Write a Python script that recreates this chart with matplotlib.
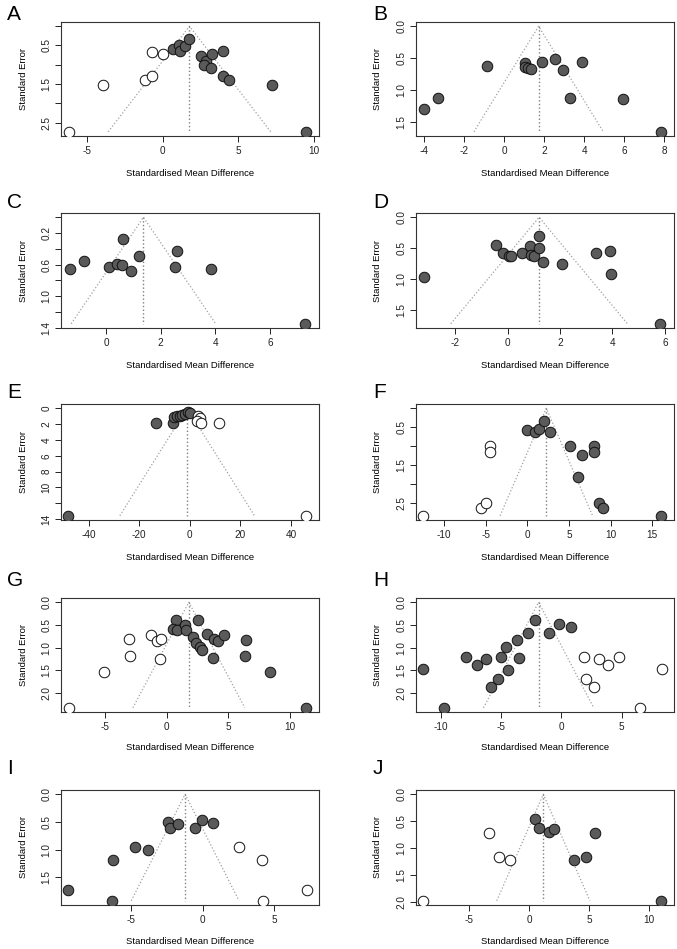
import matplotlib
matplotlib.use("Agg")
import matplotlib.pyplot as plt

plt.rcParams['font.family'] = ['Liberation Sans', 'DejaVu Sans']

# 各面板数据: obs = 实际研究(实心), fill = trim-and-fill 补充(空心)
a_obs_smd = [0.70, 1.10, 1.15, 1.50, 1.76, 2.53, 2.84, 2.73, 3.17, 3.26, 4.00, 3.99, 4.41, 7.22, 9.47]
a_obs_se = [0.60, 0.48, 0.64, 0.52, 0.34, 0.77, 0.89, 1.00, 1.08, 0.72, 0.65, 1.29, 1.39, 1.53, 2.74]
a_fill_smd = [-6.19, -3.94, -1.17, -0.73, -0.73, 0.00]
a_fill_se = [2.74, 1.53, 1.39, 1.29, 0.66, 0.72]

b_obs_smd = [-4.01, -3.29, -0.84, 1.05, 1.05, 1.19, 1.35, 1.91, 2.56, 2.93, 3.88, 3.29, 5.95, 7.84]
b_obs_se = [1.29, 1.12, 0.62, 0.58, 0.63, 0.66, 0.675, 0.56, 0.51, 0.69, 0.56, 1.12, 1.13, 1.65]
b_fill_smd = []
b_fill_se = []

c_obs_smd = [-1.32, -0.82, 0.11, 0.41, 0.60, 0.61, 0.90, 1.20, 2.59, 2.52, 3.85, 7.27]
c_obs_se = [0.66, 0.56, 0.63, 0.59, 0.60, 0.28, 0.68, 0.49, 0.43, 0.63, 0.65, 1.35]
c_fill_smd = []
c_fill_se = []

d_obs_smd = [-3.21, -0.45, -0.17, 0.06, 0.13, 0.55, 0.85, 0.90, 0.99, 1.20, 1.21, 1.35, 2.06, 3.37, 3.91, 3.94, 5.81]
d_obs_se = [0.96, 0.45, 0.57, 0.62, 0.63, 0.585, 0.47, 0.61, 0.62, 0.30, 0.49, 0.73, 0.76, 0.58, 0.54, 0.92, 1.72]
d_fill_smd = []
d_fill_se = []

e_obs_smd = [-48.0, -13.55, -6.58, -6.18, -5.0, -3.95, -2.89, -1.71, -0.66, 0.0]
e_obs_se = [13.57, 1.87, 1.91, 1.15, 0.94, 1.02, 0.85, 0.72, 0.51, 0.64]
e_fill_smd = [3.29, 3.95, 2.89, 4.6, 11.4, 46.05]
e_fill_se = [0.94, 1.28, 1.62, 1.87, 1.87, 13.57]

f_obs_smd = [0.0, 0.88, 1.40, 1.96, 2.68, 5.08, 6.60, 6.08, 7.96, 8.00, 8.60, 9.12, 16.0]
f_obs_se = [0.57, 0.62, 0.55, 0.34, 0.63, 1.00, 1.23, 1.81, 0.99, 1.16, 2.50, 2.64, 2.83]
f_fill_smd = [-12.48, -5.60, -5.00, -4.44, -4.48]
f_fill_se = [2.83, 2.64, 2.50, 1.00, 1.16]

g_obs_smd = [0.73, 2.54, 0.51, 0.84, 1.46, 1.54, 2.14, 2.35, 2.68, 2.89, 3.22, 3.81, 4.16, 4.62,
             6.41, 3.76, 6.32, 8.41, 11.3]
g_obs_se = [0.38, 0.38, 0.58, 0.60, 0.50, 0.60, 0.76, 0.89, 0.98, 1.05, 0.69, 0.80, 0.85, 0.71,
            0.82, 1.23, 1.18, 1.53, 2.32]
g_fill_smd = [-7.95, -5.08, -3.00, -3.05, -1.32, -0.84, -0.51, -0.57]
g_fill_se = [2.32, 1.53, 1.19, 0.81, 0.73, 0.85, 0.80, 1.25]

h_obs_smd = [-11.49, -9.72, -7.87, -7.02, -6.24, -5.86, -5.22, -5.03, -4.59, -4.42, -3.65, -3.48,
             -2.73, -2.15, -1.02, -0.19, 0.77]
h_obs_se = [1.47, 2.33, 1.22, 1.39, 1.26, 1.88, 1.69, 1.20, 0.98, 1.49, 0.83, 1.24,
            0.69, 0.39, 0.67, 0.47, 0.55]
h_fill_smd = [1.85, 2.04, 2.68, 3.12, 3.90, 4.78, 6.52, 8.34]
h_fill_se = [1.20, 1.69, 1.88, 1.26, 1.39, 1.22, 2.33, 1.47]

i_obs_smd = [-9.44, -6.35, -6.26, -4.72, -3.84, -2.42, -2.26, -1.70, -0.56, -0.02, 0.72]
i_obs_se = [1.72, 1.92, 1.19, 0.95, 1.01, 0.50, 0.61, 0.54, 0.60, 0.46, 0.52]
i_fill_smd = [2.51, 4.12, 4.21, 7.28]
i_fill_se = [0.95, 1.19, 1.92, 1.72]

j_obs_smd = [0.50, 0.83, 1.67, 2.03, 3.75, 4.69, 5.50, 10.94]
j_obs_se = [0.46, 0.62, 0.70, 0.65, 1.23, 1.16, 0.72, 1.98]
j_fill_smd = [-8.83, -3.36, -2.53, -1.61]
j_fill_se = [1.98, 0.72, 1.16, 1.23]

# 合并效应量(漏斗中心)
centers = [1.77, 1.72, 1.37, 1.20, -1.05, 2.28, 1.78, -1.88, -1.23, 1.17]
letters = ['A', 'B', 'C', 'D', 'E', 'F', 'G', 'H', 'I', 'J']
x_limits = [(-6.72, 10.33), (-4.41, 8.49), (-1.65, 7.8), (-3.5, 6.35), (-50.9, 51.05),
            (-13.36, 17.6), (-8.6, 12.35), (-12.04, 9.34), (-9.9, 8.12), (-9.44, 12.06)]
x_ticks = [[-5, 0, 5, 10], [-4, -2, 0, 2, 4, 6, 8], [0, 2, 4, 6], [-2, 0, 2, 4, 6],
           [-40, -20, 0, 20, 40], [-10, -5, 0, 5, 10, 15], [-5, 0, 5, 10], [-10, -5, 0, 5],
           [-5, 0, 5], [-5, 0, 5, 10]]
y_ticks = [[0, 0.5, 1, 1.5, 2, 2.5], [0, 0.5, 1, 1.5], [0, 0.2, 0.4, 0.6, 0.8, 1.0, 1.2, 1.4],
           [0, 0.5, 1, 1.5], [0, 2, 4, 6, 8, 10, 12, 14], [0, 0.5, 1, 1.5, 2, 2.5],
           [0, 0.5, 1, 1.5, 2], [0, 0.5, 1, 1.5, 2], [0, 0.5, 1, 1.5], [0, 0.5, 1, 1.5, 2]]
y_labels = [['', '0.5', '', '1.5', '', '2.5'], ['0.0', '0.5', '1.0', '1.5'],
            ['', '0.2', '', '0.6', '', '1.0', '', '1.4'], ['0.0', '0.5', '1.0', '1.5'],
            ['0', '2', '4', '6', '8', '10', '', '14'], ['', '0.5', '', '1.5', '', '2.5'],
            ['0.0', '0.5', '1.0', '1.5', '2.0'], ['0.0', '0.5', '1.0', '1.5', '2.0'],
            ['0.0', '0.5', '1.0', '1.5'], ['0.0', '0.5', '1.0', '1.5', '2.0']]

obs_smd = [a_obs_smd, b_obs_smd, c_obs_smd, d_obs_smd, e_obs_smd, f_obs_smd, g_obs_smd, h_obs_smd, i_obs_smd, j_obs_smd]
obs_se = [a_obs_se, b_obs_se, c_obs_se, d_obs_se, e_obs_se, f_obs_se, g_obs_se, h_obs_se, i_obs_se, j_obs_se]
fill_smd = [a_fill_smd, b_fill_smd, c_fill_smd, d_fill_smd, e_fill_smd, f_fill_smd, g_fill_smd, h_fill_smd, i_fill_smd, j_fill_smd]
fill_se = [a_fill_se, b_fill_se, c_fill_se, d_fill_se, e_fill_se, f_fill_se, g_fill_se, h_fill_se, i_fill_se, j_fill_se]

W, H = 677, 949
fig = plt.figure(figsize=(W / 100, H / 100), dpi=100)

# 坐标轴位置(像素)
col_lr = [(61, 319), (416, 674)]
letter_x = [7, 373]
row_tb = [(22, 136), (213, 328), (404, 520), (598, 712), (790, 905)]
label_y = [173, 365, 557, 748, 941]
letter_y = [14, 203, 392, 580, 768]

for i in range(10):
    r, c = i // 2, i % 2
    l, rr = col_lr[c]
    t, b = row_tb[r]
    ax = fig.add_axes([l / W, 1 - b / H, (rr - l) / W, (b - t) / H])

    se_max = max(obs_se[i] + fill_se[i])
    ctr = centers[i]
    # 漏斗线
    ax.plot([ctr - 1.96 * se_max, ctr, ctr + 1.96 * se_max], [se_max, 0, se_max],
            ls=':', color='#a0a0a0', lw=0.9, zorder=1)
    ax.plot([ctr, ctr], [0, se_max], ls=':', color='#808080', lw=1.0, zorder=1)

    ax.plot(obs_smd[i], obs_se[i], 'o', ms=7.6, mfc='#5a5a5a', mec='#111111', mew=0.7, ls='none', zorder=3)
    if fill_smd[i]:
        ax.plot(fill_smd[i], fill_se[i], 'o', ms=7.6, mfc='white', mec='#111111', mew=0.7, ls='none', zorder=3)

    ax.set_xlim(*x_limits[i])
    ax.set_ylim(se_max * 1.04, -0.04 * se_max)
    ax.set_xticks(x_ticks[i])
    ax.set_xticklabels([str(v) for v in x_ticks[i]], fontsize=7.2)
    ax.set_yticks(y_ticks[i])
    ax.set_yticklabels(y_labels[i], fontsize=7.2, rotation=90, va='center')
    ax.tick_params(length=4, width=0.7, pad=3, colors='#222222')
    for s in ax.spines.values():
        s.set_linewidth(0.8)
        s.set_color('#333333')

    fig.text((l + rr) / 2 / W, 1 - label_y[r] / H, 'Standardised Mean Difference',
             ha='center', va='center', fontsize=6.8)
    fig.text((l - 38) / W, 1 - (t + b) / 2 / H, 'Standard Error',
             ha='center', va='center', rotation=90, fontsize=6.8)
    fig.text(letter_x[c] / W, 1 - letter_y[r] / H, letters[i], ha='left', va='center', fontsize=15)

fig.savefig('out.png', dpi=100)
